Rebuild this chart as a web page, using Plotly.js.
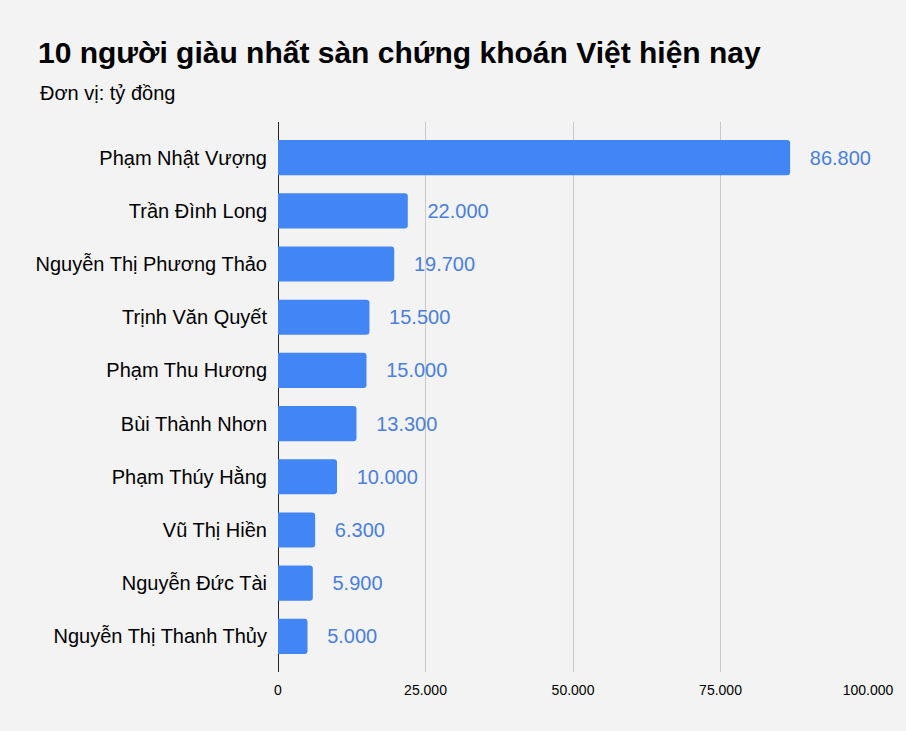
<!DOCTYPE html>
<html>
<head>
<meta charset="utf-8">
<script src="https://cdn.plot.ly/plotly-3.0.1.min.js"></script>
<style>
  html, body { margin: 0; padding: 0; background: #f3f3f3; }
  #chart { width: 906px; height: 731px; }
</style>
</head>
<body>
<div id="chart"></div>
<script>
const names = [
    "Phạm Nhật Vượng",
    "Trần Đình Long",
    "Nguyễn Thị Phương Thảo",
    "Trịnh Văn Quyết",
    "Phạm Thu Hương",
    "Bùi Thành Nhơn",
    "Phạm Thúy Hằng",
    "Vũ Thị Hiền",
    "Nguyễn Đức Tài",
    "Nguyễn Thị Thanh Thủy"
];
const assets = [86800, 22000, 19700, 15500, 15000, 13300, 10000, 6300, 5900, 5000];
const tickValues = [0, 25000, 50000, 75000, 100000];

const Chart = {
    fun: {
        draw: (html_id) => {
            let data = [{
                type: 'bar',
                orientation: 'h',
                y: names,
                x: assets,
                width: 0.66,
                marker: { color: '#4285f4', cornerradius: 3 },
                text: assets,
                // leading spaces push the label away from the bar end
                texttemplate: '\u2002\u2005\u200A%{x:,d}',
                textposition: 'outside',
                constraintext: 'none',
                cliponaxis: false,
                textfont: { family: 'Liberation Sans, Arial, sans-serif', size: 20, color: '#4a80dc' },
                hoverinfo: 'none'
            }];
            let layout = {
                width: 906,
                height: 731,
                paper_bgcolor: '#f3f3f3',
                plot_bgcolor: '#f3f3f3',
                separators: ',.',
                margin: { l: 278, r: 38, t: 122, b: 59 },
                font: { family: 'Liberation Sans, Arial, sans-serif', color: '#000' },
                title: {
                    text: '<b>10 người giàu nhất sàn chứng khoán Việt hiện nay</b>',
                    font: { size: 30, color: '#000' },
                    xref: 'container', yref: 'container',
                    x: 38 / 906, xanchor: 'left',
                    y: 1 - 52 / 731, yanchor: 'middle'
                },
                annotations: [{
                    text: 'Đơn vị: tỷ đồng',
                    xref: 'paper', yref: 'paper',
                    x: (38 - 278) / 590, xanchor: 'left',
                    y: 1 + (122 - 93) / 550, yanchor: 'middle',
                    showarrow: false,
                    font: { size: 20, color: '#000' }
                }],
                xaxis: {
                    range: [0, 100000],
                    tickvals: tickValues,
                    tickformat: ',d',
                    showgrid: true,
                    gridcolor: '#c8c8c8',
                    gridwidth: 1,
                    zeroline: true,
                    zerolinecolor: '#222',
                    zerolinewidth: 1,
                    showline: false,
                    ticks: '',
                    ticklabelstandoff: 8,
                    tickfont: { size: 14, color: '#000' },
                    fixedrange: true
                },
                yaxis: {
                    type: 'category',
                    range: [9.67, -0.67],
                    showgrid: false,
                    zeroline: false,
                    ticks: '',
                    ticklabelstandoff: 10,
                    tickfont: { size: 20, color: '#000' },
                    fixedrange: true
                },
                showlegend: false
            };
            Plotly.newPlot(html_id, data, layout, { displayModeBar: false, staticPlot: true });
        }
    }
}

Chart.fun.draw("chart");
</script>
</body>
</html>
